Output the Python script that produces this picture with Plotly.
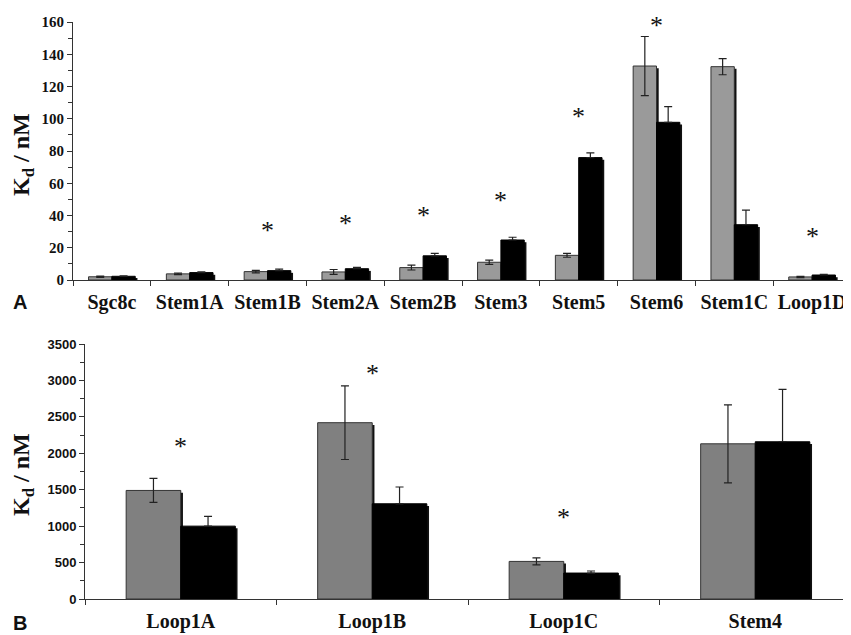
import plotly.graph_objects as go

# ---------------- data ----------------
cats_a = ["Sgc8c", "Stem1A", "Stem1B", "Stem2A", "Stem2B", "Stem3", "Stem5", "Stem6", "Stem1C", "Loop1D"]
gray_a = [2.0, 3.8, 5.2, 5.0, 7.7, 11.0, 15.3, 132.7, 132.3, 1.9]
gray_a_err = [0.4, 0.5, 0.8, 1.5, 1.5, 1.3, 1.2, 18.3, 5.0, 0.4]
black_a = [2.3, 4.6, 5.8, 7.0, 15.0, 24.8, 75.9, 97.8, 34.3, 3.1]
black_a_err = [0.3, 0.5, 1.0, 0.8, 1.5, 1.7, 2.9, 9.7, 9.0, 0.4]
star_a_cats = ["Stem1B", "Stem2A", "Stem2B", "Stem3", "Stem5", "Stem6", "Stem1C", "Loop1D"]
star_a_y = [32.4, 37.0, 41.7, 51.4, 103.0, 159.6, 161.0, 29.0]

cats_b = ["Loop1A", "Loop1B", "Loop1C", "Stem4"]
gray_b = [1490, 2420, 516, 2130]
gray_b_err = [165, 505, 48, 535]
black_b = [1000, 1307, 356, 2158]
black_b_err = [135, 230, 28, 720]
star_b_cats = ["Loop1A", "Loop1B", "Loop1C"]
star_b_y = [2130, 3132, 1157]

# ---------------- geometry ----------------
# The page body has an 8px margin, so the figure is drawn 8px smaller and
# all screen positions are expressed relative to that offset.
PAD = 8
SW, SH = 851, 635
W, H = SW - PAD, SH - PAD

def fx(px):  # screen x -> paper fraction
    return (px - PAD) / W

def fy(py):  # screen y -> paper fraction
    return 1 - (py - PAD) / H

A_left, A_top, A_bottom = 73, 22, 280
B_left, B_top, B_bottom = 85, 344, 599

A_ymax, B_ymax = 160, 3500
sh_px = 2.2
A_dx = sh_px / ((SW - A_left) / len(cats_a))
A_dy = sh_px / ((A_bottom - A_top) / A_ymax)
B_dx = sh_px / ((SW - B_left) / len(cats_b))
B_dy = sh_px / ((B_bottom - B_top) / B_ymax)

gray_a_col = "#9a9a9a"
gray_b_col = "#808080"
edge = "#333333"
serif = "Liberation Serif"
sans = "Liberation Sans"

fig = go.Figure()

def add_panel(cats, gvals, gerr, bvals, berr, gcol, w, dx, dy, xa, ya, capw):
    fig.add_trace(go.Bar(x=cats, y=[max(v - dy, 0) for v in gvals], width=w, offset=-w + dx,
                         marker=dict(color="#111111", line=dict(width=0)), xaxis=xa, yaxis=ya,
                         hoverinfo="skip"))
    fig.add_trace(go.Bar(x=cats, y=[max(v - dy, 0) for v in bvals], width=w, offset=dx,
                         marker=dict(color="#111111", line=dict(width=0)), xaxis=xa, yaxis=ya,
                         hoverinfo="skip"))
    fig.add_trace(go.Bar(x=cats, y=gvals, width=w, offset=-w,
                         marker=dict(color=gcol, line=dict(color=edge, width=1)),
                         error_y=dict(type="data", array=gerr, color="#222222", thickness=1.2, width=capw),
                         xaxis=xa, yaxis=ya))
    fig.add_trace(go.Bar(x=cats, y=bvals, width=w, offset=0,
                         marker=dict(color="#000000", line=dict(color="#000000", width=1)),
                         error_y=dict(type="data", symmetric=False, array=berr, arrayminus=[0] * len(berr),
                                      color="#222222", thickness=1.2, width=capw),
                         xaxis=xa, yaxis=ya))

add_panel(cats_a, gray_a, gray_a_err, black_a, black_a_err, gray_a_col, 0.3, A_dx, A_dy, "x", "y", 4)
add_panel(cats_b, gray_b, gray_b_err, black_b, black_b_err, gray_b_col, 0.285, B_dx, B_dy, "x2", "y2", 4)

annotations = []
for c, yv in zip(star_a_cats, star_a_y):
    annotations.append(dict(x=c, y=yv, xref="x", yref="y", text="*", showarrow=False,
                            font=dict(family=serif, size=26, color="#111"),
                            xanchor="center", yanchor="middle", yshift=-3))
for c, yv in zip(star_b_cats, star_b_y):
    annotations.append(dict(x=c, y=yv, xref="x2", yref="y2", text="*", showarrow=False,
                            font=dict(family=serif, size=26, color="#111"),
                            xanchor="center", yanchor="middle", yshift=-3))

title_txt = "K<sub>d</sub> / nM"
for ty in (155, 475):
    annotations.append(dict(x=fx(23), y=fy(ty), xref="paper", yref="paper", text=title_txt,
                            textangle=-90, showarrow=False, xanchor="center", yanchor="middle",
                            font=dict(family=serif, size=24, color="#111", weight="bold")))
for lbl, ly in (("A", 302), ("B", 623)):
    annotations.append(dict(x=fx(20), y=fy(ly), xref="paper", yref="paper", text=lbl,
                            showarrow=False, xanchor="center", yanchor="middle",
                            font=dict(family=sans, size=20, color="#111", weight="bold")))

common_x = dict(type="category", showline=True, linecolor=edge, linewidth=1, ticks="outside",
                tickson="boundaries", ticklen=5, tickcolor=edge, showgrid=False, zeroline=False,
                fixedrange=True, tickangle=0, automargin=False, ticklabelstandoff=4)
common_y = dict(showline=True, linecolor=edge, linewidth=1, ticks="outside", ticklen=5,
                tickcolor=edge, showgrid=False, zeroline=False, fixedrange=True, automargin=False)

fig.update_layout(
    width=W, height=H, margin=dict(l=0, r=0, t=0, b=0, autoexpand=False),
    paper_bgcolor="white", plot_bgcolor="white", showlegend=False,
    barmode="overlay",
    xaxis=dict(common_x, domain=[fx(A_left), 1], range=[-0.5, len(cats_a) - 0.5], anchor="y",
               tickfont=dict(family=serif, size=20, color="#111", weight="bold")),
    yaxis=dict(common_y, domain=[fy(A_bottom), fy(A_top)], range=[0, A_ymax], dtick=20,
               anchor="x", minor=dict(dtick=10, ticks="outside", ticklen=4, tickcolor=edge),
               tickfont=dict(family=serif, size=15, color="#111", weight="bold")),
    xaxis2=dict(common_x, domain=[fx(B_left), 1], range=[-0.5, len(cats_b) - 0.5], anchor="y2",
                tickfont=dict(family=serif, size=20, color="#111", weight="bold")),
    yaxis2=dict(common_y, domain=[fy(B_bottom), fy(B_top)], range=[0, B_ymax], dtick=500,
                anchor="x2", minor=dict(dtick=250, ticks="outside", ticklen=4, tickcolor=edge),
                tickfont=dict(family=sans, size=13, color="#111", weight="bold")),
    annotations=annotations,
)

fig.write_html("out.html")
